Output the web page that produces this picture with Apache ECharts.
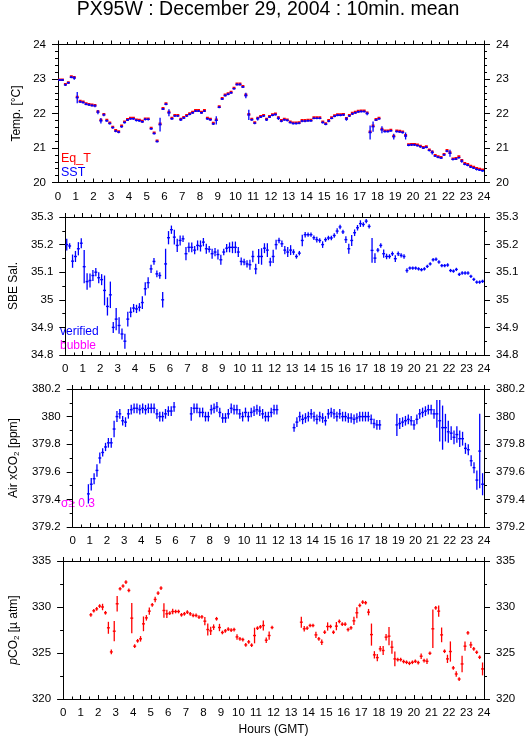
<!DOCTYPE html>
<html><head><meta charset="utf-8">
<script src="https://cdn.jsdelivr.net/npm/echarts@6/dist/echarts.min.js"></script>
<style>html,body{margin:0;padding:0;background:#fff}#c{width:529px;height:739px}</style>
</head><body><div id="c"></div>
<script>
// 10-minute mean sampling times (hours GMT, bin centres)
const HOURS = Array.from({length: 144}, (_, i) => i / 6 + 1 / 12);
const HOUR_TICKS = [0, 24, 1];

// Panel 1: temperatures [°C]
const SST = [
 22.97,22.97,22.83,22.89,23.05,23.03, 22.46,22.34,22.32,22.27,22.25,22.23,
 22.22,22.04,21.79,21.96,21.79,21.71, 21.59,21.49,21.46,21.62,21.74,21.81,
 21.85,21.85,21.80,21.79,21.76,21.83, 21.83,21.56,21.42,21.19,21.68,22.13,
 22.27,22.02,21.85,21.93,21.93,21.82, 21.87,21.93,21.98,22.02,22.07,22.07,
 22.02,22.07,21.85,21.82,21.70,21.80, 22.18,22.42,22.52,22.56,22.60,22.72,
 22.84,22.84,22.77,22.52,21.96,21.82, 21.72,21.85,21.90,21.93,21.82,21.90,
 21.95,21.97,21.86,21.78,21.82,21.80, 21.74,21.71,21.71,21.72,21.78,21.78,
 21.79,21.79,21.86,21.86,21.86,21.74, 21.69,21.78,21.86,21.92,21.95,21.95,
 21.96,21.84,21.93,21.99,22.02,22.05, 22.06,22.06,22.00,21.45,21.62,21.81,
 21.85,21.53,21.48,21.48,21.50,21.33, 21.48,21.47,21.45,21.35,21.08,21.09,
 21.09,21.07,21.04,21.00,21.02,20.93, 20.87,20.77,20.73,20.71,20.80,20.91,
 20.85,20.67,20.68,20.72,20.62,20.53, 20.50,20.45,20.42,20.38,20.36,20.34];
const SST_ERR = [
 .03,.03,.03,.03,.03,.05, .16,.03,.03,.03,.03,.03,
 .04,.06,.08,.04,.03,.03, .03,.03,.03,.03,.03,.03,
 .03,.03,.03,.03,.03,.03, .03,.03,.03,.03,.20,.03,
 .03,.10,.03,.03,.03,.04, .03,.03,.03,.03,.03,.03,
 .03,.03,.03,.03,.03,.12, .03,.03,.03,.03,.03,.03,
 .03,.03,.03,.08,.15,.03, .03,.05,.03,.03,.04,.03,
 .03,.03,.05,.03,.03,.03, .03,.03,.03,.03,.03,.03,
 .03,.03,.03,.03,.03,.03, .03,.03,.03,.03,.03,.03,
 .03,.05,.03,.03,.03,.03, .03,.03,.05,.20,.15,.03,
 .03,.10,.03,.03,.03,.08, .03,.03,.03,.10,.03,.03,
 .03,.03,.03,.03,.03,.03, .06,.03,.03,.03,.03,.03,
 .10,.03,.03,.03,.05,.03, .03,.03,.03,.03,.03,.03];
const EQ_T = [
 22.98,22.98,22.85,22.90,23.07,23.05, 22.48,22.36,22.34,22.29,22.27,22.25,
 22.24,22.06,21.81,21.98,21.81,21.73, 21.61,21.51,21.48,21.64,21.76,21.83,
 21.87,21.87,21.82,21.81,21.78,21.85, 21.85,21.58,21.44,21.21,21.70,22.15,
 22.29,22.04,21.87,21.95,21.95,21.84, 21.89,21.95,22.00,22.04,22.09,22.09,
 22.04,22.09,21.87,21.84,21.72,21.82, 22.20,22.44,22.54,22.58,22.62,22.74,
 22.86,22.86,22.79,22.54,21.98,21.84, 21.74,21.87,21.92,21.95,21.84,21.92,
 21.97,21.99,21.88,21.80,21.84,21.82, 21.76,21.73,21.73,21.74,21.80,21.80,
 21.81,21.81,21.88,21.88,21.88,21.76, 21.71,21.80,21.88,21.94,21.97,21.97,
 21.98,21.86,21.95,22.01,22.04,22.07, 22.08,22.08,22.02,21.47,21.64,21.83,
 21.87,21.55,21.50,21.50,21.52,21.35, 21.50,21.49,21.47,21.37,21.10,21.11,
 21.11,21.09,21.06,21.02,21.04,20.95, 20.89,20.79,20.75,20.73,20.82,20.93,
 20.87,20.69,20.70,20.75,20.64,20.56, 20.53,20.48,20.45,20.41,20.39,20.37];

// Panel 2: SBE salinity
const SAL = [
 35.200,35.195,35.140,35.157,35.185,35.205, 35.120,35.066,35.070,35.088,35.100,35.080,
 35.073,35.034,34.976,35.018,34.900,34.930, 34.907,34.876,34.850,34.930,34.955,34.970,
 34.967,34.973,34.990,35.040,35.062,35.112, 35.139,35.094,35.088,35.000,35.130,35.225,
 35.254,35.227,35.197,35.215,35.221,35.167, 35.190,35.190,35.180,35.197,35.195,35.209,
 35.185,35.183,35.167,35.173,35.164,35.145, 35.173,35.187,35.190,35.190,35.190,35.173,
 35.139,35.137,35.130,35.127,35.157,35.112, 35.157,35.157,35.187,35.180,35.137,35.157,
 35.200,35.215,35.203,35.180,35.173,35.180, 35.173,35.157,35.169,35.215,35.236,35.236,
 35.236,35.225,35.218,35.215,35.200,35.218, 35.224,35.224,35.233,35.249,35.264,35.246,
 35.218,35.185,35.215,35.243,35.261,35.276, 35.273,35.285,35.266,35.179,35.151,35.180,
 35.197,35.167,35.157,35.157,35.167,35.149, 35.167,35.161,35.157,35.106,35.115,35.115,
 35.115,35.112,35.109,35.112,35.121,35.130, 35.145,35.147,35.137,35.124,35.124,35.126,
 35.106,35.104,35.110,35.092,35.097,35.097, 35.097,35.085,35.074,35.064,35.064,35.067];
const SAL_ERR = [
 .021,.010,.024,.020,.024,.018, .060,.030,.025,.020,.015,.020,
 .020,.054,.033,.048,.020,.040, .030,.020,.027,.027,.018,.015,
 .015,.015,.023,.024,.020,.015, .012,.012,.012,.028,.055,.024,
 .015,.027,.024,.018,.012,.024, .018,.018,.015,.018,.020,.015,
 .018,.012,.018,.015,.018,.018, .012,.015,.018,.021,.021,.018,
 .014,.012,.013,.018,.021,.019, .027,.030,.018,.025,.015,.024,
 .018,.010,.012,.015,.018,.018, .010,.008,.008,.021,.010,.008,
 .008,.008,.010,.008,.012,.008, .008,.008,.008,.010,.008,.008,
 .012,.018,.020,.012,.010,.012, .008,.008,.008,.045,.018,.008,
 .008,.015,.010,.008,.008,.012, .008,.008,.008,.008,.006,.006,
 .006,.006,.006,.006,.006,.006, .006,.006,.006,.006,.006,.006,
 .006,.006,.006,.006,.006,.006, .006,.006,.006,.006,.006,.006];

// Panel 3: air xCO2 [ppm]
const XCO2 = [
 null,null,null,null,null,379.44, 379.51,379.55,379.61,379.70,379.74,379.78,
 379.81,379.81,379.91,380.00,380.02,379.97, 379.96,380.02,380.05,380.06,380.06,380.05,
 380.06,380.05,380.06,380.06,380.06,380.02, 380.00,380.00,380.02,380.04,380.04,380.07,
 null,null,null,null,null,380.02, 380.06,380.06,380.03,380.03,380.00,380.00,
 380.05,380.06,380.07,380.03,379.99,379.99, 380.02,380.06,380.05,380.05,380.02,380.00,
 380.03,380.00,380.03,380.04,380.05,380.04, 380.02,380.00,380.00,380.03,380.05,380.05,
 null,null,null,null,null,379.92, 379.96,380.00,379.98,379.99,380.00,380.02,
 380.00,379.98,380.00,379.99,379.97,380.02, 380.03,380.02,380.00,380.02,380.00,380.00,
 379.99,379.99,379.98,379.99,380.00,380.00, 380.00,380.00,379.98,379.95,379.94,379.94,
 null,null,null,null,null,379.94, 379.95,379.96,379.97,379.98,379.97,379.94,
 379.98,380.02,380.03,380.04,380.05,380.05, 380.02,380.02,379.97,379.92,379.92,379.89,
 379.88,379.85,379.87,379.84,379.84,379.77, 379.76,379.68,379.63,379.54,379.75,379.51];
const XCO2_ERR = [
 0,0,0,0,0,.07, .045,.04,.045,.04,.03,.03,
 .035,.035,.06,.04,.035,.035, .035,.035,.035,.035,.035,.035,
 .035,.035,.035,.035,.035,.035, .035,.035,.035,.035,.035,.035,
 0,0,0,0,0,.05, .035,.035,.035,.035,.035,.035,
 .035,.035,.035,.035,.035,.035, .035,.035,.035,.035,.035,.035,
 .035,.035,.035,.035,.035,.035, .035,.035,.035,.035,.035,.035,
 0,0,0,0,0,.03, .035,.035,.035,.035,.035,.035,
 .035,.035,.035,.035,.035,.035, .035,.035,.035,.035,.035,.035,
 .035,.035,.035,.035,.035,.035, .035,.035,.035,.035,.035,.035,
 0,0,0,0,0,.08, .04,.035,.035,.035,.035,.035,
 .035,.035,.035,.035,.035,.035, .035,.10,.15,.16,.10,.08,
 .05,.05,.06,.06,.05,.04, .04,.04,.04,.07,.27,.08];

// Panel 4: pCO2 [µatm]
const PCO2 = [
 null,null,null,null,null,null, null,null,null,329.15,329.59,329.80,
 330.10,330.00,329.37,327.74,325.12,327.37, 330.35,331.98,332.28,332.71,331.80,328.79,
 325.74,326.32,326.54,328.17,328.82,329.55, 330.24,330.82,331.51,332.06,329.62,329.26,
 329.33,329.51,329.51,329.51,329.15,329.26, 329.44,329.26,329.08,329.08,328.90,328.93,
 328.46,327.55,327.41,327.81,328.72,327.77, 327.23,327.41,327.59,327.48,327.55,326.75,
 326.54,326.46,325.88,326.21,325.85,326.90, 327.70,327.84,327.99,326.39,326.90,327.77,
 null,null,null,null,null,null, null,null,null,328.35,327.63,327.70,
 327.99,327.99,326.97,326.54,326.17,327.26, 327.88,327.88,327.26,327.92,328.43,328.13,
 328.13,327.55,327.74,328.50,329.37,330.17, 330.53,330.46,329.44,327.00,324.80,324.50,
 325.45,325.27,326.72,326.83,325.63,324.36, 324.28,324.28,324.07,323.99,323.88,323.99,
 324.10,323.96,324.65,324.18,324.10,324.97, 327.63,329.91,329.55,326.97,325.19,324.36,
 325.16,323.38,322.72,322.17,323.81,325.74, 327.19,325.88,325.45,325.08,324.54,323.27];
const PCO2_ERR = [
 0,0,0,0,0,0, 0,0,0,.2,.2,.2,
 .2,.35,.2,.65,.25,1.1, .85,.2,.2,.2,.2,1.65,
 .2,.2,.3,.8,.3,.4, .2,.3,.2,.2,.8,.45,
 .2,.3,.2,.2,.2,.2, .2,.2,.2,.2,.2,.2,
 .45,.65,.45,.3,.2,.4, .2,.2,.2,.2,.2,.3,
 .2,.2,.2,.2,.2,.85, .2,.2,.55,.3,.45,.2,
 0,0,0,0,0,0, 0,0,0,.6,.3,.2,
 .2,.2,.35,.2,.3,.2, .45,.2,.2,.45,.2,.2,
 .2,.2,.2,.45,.6,.2, .2,.2,.35,1.2,.4,.4,
 .3,.5,.35,1.0,.7,.8, .2,.2,.2,.2,.2,.2,
 .2,.2,.3,.2,.3,.2, 2.1,.2,.6,.8,.2,.45,
 1.1,.2,.3,.2,.9,.5, .2,.35,.2,.2,.2,.7];

const FONT = '"Liberation Sans", Arial, Helvetica, sans-serif';
const BLUE = '#0000ff', RED = '#ff0000', MAG = '#ff00ff';
const TOPS = [44.5, 217, 389, 561];
const PH = 138;

function toData(vals, errs) {
  const out = [];
  for (let i = 0; i < vals.length; i++) {
    if (vals[i] == null) continue;
    out.push([HOURS[i], vals[i], errs[i]]);
  }
  return out;
}
function errRenderer(color, hw, vw) {
  return function (params, api) {
    const t = api.value(0), v = api.value(1), e = api.value(2);
    const a = api.coord([t - 1 / 12, v]), b = api.coord([t + 1 / 12, v]);
    const p = api.coord([t, v + e]), q = api.coord([t, v - e]);
    return {
      type: 'group',
      children: [
        {type: 'line', shape: {x1: a[0], y1: a[1], x2: b[0], y2: b[1]}, style: {stroke: color, lineWidth: hw}},
        {type: 'line', shape: {x1: p[0], y1: p[1], x2: q[0], y2: q[1]}, style: {stroke: color, lineWidth: vw}}
      ]
    };
  };
}
const black = {color: '#000', width: 1};
function xAxes(gi) {
  const common = {
    gridIndex: gi, type: 'value', min: HOUR_TICKS[0], max: HOUR_TICKS[1], interval: HOUR_TICKS[2],
    axisLine: {show: true, onZero: false, lineStyle: black},
    splitLine: {show: false}, minorSplitLine: {show: false}
  };
  return [
    Object.assign({}, common, {
      position: 'bottom',
      axisTick: {show: true, inside: true, length: 4, lineStyle: black},
      minorTick: {show: true, splitNumber: 2, length: 2.5, lineStyle: black},
      axisLabel: {show: true, color: '#000', fontSize: 11.5, fontFamily: FONT, margin: 8, showMinLabel: true, showMaxLabel: true, hideOverlap: false},
      name: gi === 3 ? 'Hours (GMT)' : '', nameLocation: 'middle', nameGap: 25,
      nameTextStyle: {color: '#000', fontSize: 12, fontFamily: FONT}
    }),
    Object.assign({}, common, {
      position: 'top',
      axisTick: {show: true, inside: false, length: 4, lineStyle: black},
      minorTick: {show: true, splitNumber: 2, length: 2.5, lineStyle: black},
      axisLabel: {show: false}
    })
  ];
}
function yAxes(gi, min, max, interval, minorSplit, name, nameGap, rich) {
  const common = {
    gridIndex: gi, type: 'value', min: min, max: max, interval: interval,
    axisLine: {show: true, onZero: false, lineStyle: black},
    axisTick: {show: true, inside: false, length: 6, lineStyle: black},
    minorTick: {show: true, splitNumber: minorSplit, length: 3, lineStyle: black},
    axisLabel: {show: true, color: '#000', fontSize: 11.5, fontFamily: FONT, margin: 12, showMinLabel: true, showMaxLabel: true},
    splitLine: {show: false}, minorSplitLine: {show: false}
  };
  return [
    Object.assign({}, common, {
      position: 'left', name: name, nameLocation: 'middle', nameGap: nameGap, nameRotate: 90,
      nameTextStyle: {color: '#000', fontSize: 12, fontFamily: FONT, rich: rich || {}}
    }),
    Object.assign({}, common, {position: 'right'})
  ];
}
const subRich = {
  n: {fontSize: 12, fontFamily: FONT, color: '#000', lineHeight: 14},
  i: {fontSize: 12, fontFamily: FONT, color: '#000', lineHeight: 14, fontStyle: 'italic'},
  s: {fontSize: 8, fontFamily: FONT, color: '#000', lineHeight: 8, verticalAlign: 'bottom'}
};

const grids = TOPS.map(t => ({left: 58, right: 45, top: t, height: PH, containLabel: false}));
let xAxis = [], yAxis = [];
for (let g = 0; g < 4; g++) xAxis = xAxis.concat(xAxes(g));
yAxis = yAxis.concat(yAxes(0, 20, 24, 1, 5, 'Temp. [°C]', 28));
yAxis = yAxis.concat(yAxes(1, 34.8, 35.3, 0.1, 2, 'SBE Sal.', 39));
yAxis = yAxis.concat(yAxes(2, 379.2, 380.2, 0.2, 2, '{n|Air xCO}{s|2}{n| [ppm]}', 48, subRich));
yAxis = yAxis.concat(yAxes(3, 320, 335, 5, 2, '{i|p}{n|CO}{s|2}{n| [µ atm]}', 34, subRich));

function cs(name, g, color, vals, errs, hw, vw) {
  return {
    name: name, type: 'custom', xAxisIndex: g * 2, yAxisIndex: g * 2, clip: true,
    renderItem: errRenderer(color, hw, vw), encode: {x: 0, y: 1},
    data: toData(vals, errs), silent: true, animation: false
  };
}
const series = [
  cs('Eq_T', 0, RED, EQ_T, SST_ERR.map(() => 0), 2.6, 1.2),
  cs('SST', 0, BLUE, SST, SST_ERR, 1.4, 1.3),
  cs('verified', 1, BLUE, SAL, SAL_ERR, 1.4, 1.3),
  cs('Air xCO2', 2, BLUE, XCO2, XCO2_ERR, 1.4, 1.3),
  cs('pCO2', 3, RED, PCO2, PCO2_ERR, 1.4, 1.3)
];

function label(text, x, y, color, size) {
  return {type: 'text', x: x, y: y, style: {text: text, fill: color, fontSize: size, fontFamily: FONT, verticalAlign: 'middle', align: 'left'}, silent: true};
}
const graphic = [
  {type: 'text', x: 268, y: 10, style: {text: 'PX95W : December 29, 2004 : 10min. mean', fill: '#000', fontSize: 19.5, fontFamily: FONT, align: 'center', verticalAlign: 'middle'}},
  label('Eq_T', 61, 159, RED, 12.5),
  label('SST', 61, 173, BLUE, 12.5),
  label('verified', 60, 332, BLUE, 12),
  label('bubble', 60, 346, MAG, 12),
  label('σ≥ 0.3', 61, 504, MAG, 12)
];

const chart = echarts.init(document.getElementById('c'), null, {renderer: 'canvas'});
chart.setOption({
  animation: false,
  backgroundColor: '#fff',
  grid: grids, xAxis: xAxis, yAxis: yAxis, series: series, graphic: graphic
});
</script></body></html>
